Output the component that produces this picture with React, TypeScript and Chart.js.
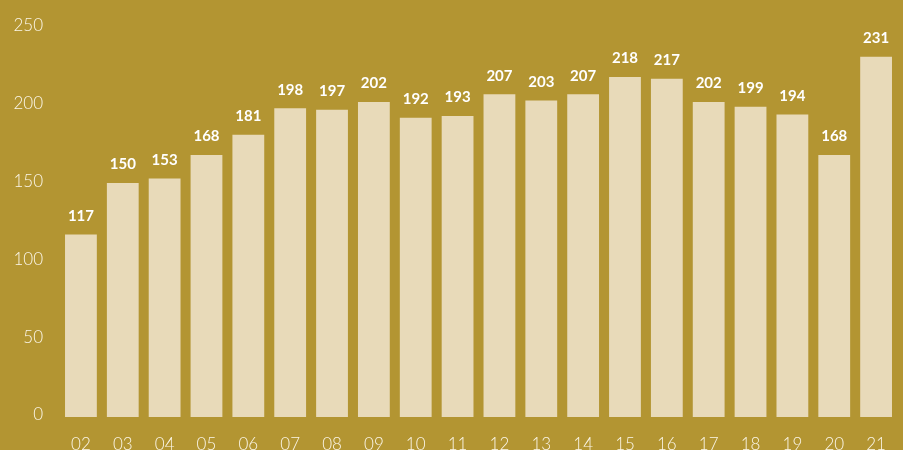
import React, { useEffect, useRef } from "react";
import { Chart, registerables } from "chart.js";

Chart.register(...registerables);

const categories = ["02", "03", "04", "05", "06", "07", "08", "09", "10", "11", "12", "13", "14", "15", "16", "17", "18", "19", "20", "21"];
const values = [117, 150, 153, 168, 181, 198, 197, 202, 192, 193, 207, 203, 207, 218, 217, 202, 199, 194, 168, 231];
const yTicks = [0, 50, 100, 150, 200, 250];

const BG = "#b39532";
const BAR = "#e8dab9";
const TEXT = "#fbf6e8";

const valueLabels = {
  id: "valueLabels",
  afterDatasetsDraw(chart: any) {
    const ctx = chart.ctx;
    const meta = chart.getDatasetMeta(0);
    ctx.save();
    ctx.fillStyle = "#ffffff";
    ctx.font = "bold 15px Lato";
    ctx.textAlign = "center";
    ctx.textBaseline = "bottom";
    meta.data.forEach((bar: any, i: number) => {
      ctx.fillText(String(values[i]), bar.x, bar.y - 11);
    });
    ctx.restore();
  },
};

const bgPlugin = {
  id: "bg",
  beforeDraw(chart: any) {
    const ctx = chart.ctx;
    ctx.save();
    ctx.fillStyle = BG;
    ctx.fillRect(0, 0, chart.width, chart.height);
    ctx.restore();
  },
};

export default function App() {
  const ref = useRef<HTMLCanvasElement>(null);
  useEffect(() => {
    document.body.style.margin = "0";
    document.body.style.background = BG;
    const chart = new Chart(ref.current!, {
      type: "bar",
      data: {
        labels: categories,
        datasets: [
          {
            data: values,
            backgroundColor: BAR,
            borderWidth: 0,
            barPercentage: 0.76,
            categoryPercentage: 1,
          },
        ],
      },
      options: {
        animation: false,
        responsive: false,
        maintainAspectRatio: false,
        layout: { padding: { top: 26, right: 2, left: 0, bottom: 0 } },
        plugins: { legend: { display: false }, tooltip: { enabled: false } },
        scales: {
          x: {
            grid: { display: false, drawTicks: false },
            border: { display: false },
            ticks: {
              color: TEXT,
              font: { family: "Lato", size: 17, weight: 300 as any },
              padding: 17,
              maxRotation: 0,
              autoSkip: false,
            },
            afterFit(axis: any) {
              axis.height = 33;
            },
          },
          y: {
            min: 0,
            max: 250,
            afterBuildTicks(axis: any) {
              axis.ticks = yTicks.map((v) => ({ value: v }));
            },
            grid: { display: false, drawTicks: false },
            border: { display: false },
            ticks: {
              color: TEXT,
              font: { family: "Lato", size: 17, weight: 300 as any },
              padding: 17,
              labelOffset: -2,
            },
            afterFit(axis: any) {
              axis.width = 60;
            },
          },
        },
      },
      plugins: [bgPlugin, valueLabels],
    });
    return () => chart.destroy();
  }, []);
  return <canvas ref={ref} width={903} height={450} style={{ display: "block" }} />;
}
